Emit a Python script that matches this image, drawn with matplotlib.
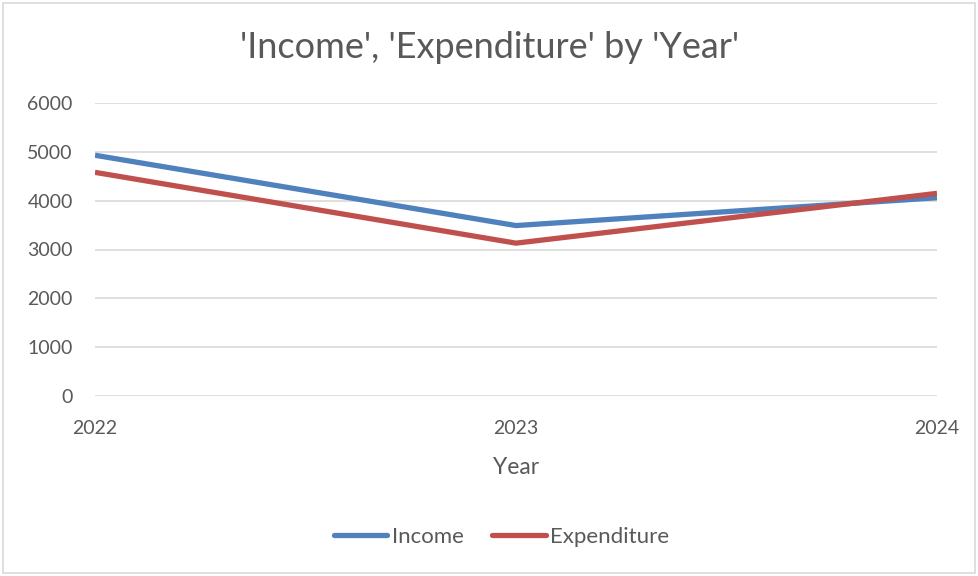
import matplotlib
matplotlib.use("Agg")
import matplotlib.pyplot as plt
from matplotlib.patches import Rectangle

years = [2022, 2023, 2024]
income = [4930, 3490, 4060]
expenditure = [4580, 3130, 4150]
yticks = [0, 1000, 2000, 3000, 4000, 5000, 6000]

plt.rcParams['font.family'] = ['Lato', 'DejaVu Sans']
fig = plt.figure(figsize=(9.79, 5.76), dpi=100)
ax = fig.add_axes([95/979, 1-396/576, (937-95)/979, (396-103)/576])

ax.plot(years, income, color='#4F81BD', lw=3.8, solid_capstyle='butt', label='Income')
ax.plot(years, expenditure, color='#C0504D', lw=3.8, solid_capstyle='butt', label='Expenditure')

ax.set_xlim(2022, 2024)
ax.set_ylim(0, 6000)
ax.set_yticks(yticks)
ax.set_xticks(years)
ax.set_xticklabels([str(y) for y in years])
ax.grid(axis='y', color='#D9D9D9', lw=1.2)
ax.set_axisbelow(True)
for s in ax.spines.values():
    s.set_visible(False)
ax.tick_params(axis='both', length=0, labelsize=14, labelcolor='#595959')
ax.tick_params(axis='x', pad=17)
ax.tick_params(axis='y', pad=16)
ax.set_xlabel('Year', fontsize=16.5, color='#595959', labelpad=15)

fig.text(0.5, 1-47/576, "'Income', 'Expenditure' by 'Year'", ha='center', va='center',
         fontsize=26, color='#595959')

leg = fig.legend(loc='center', bbox_to_anchor=(501.5/979, 1-537/576), ncol=2, frameon=False,
                 fontsize=16, handlelength=2.4, handletextpad=0.2, columnspacing=1.3,
                 labelcolor='#595959')
for line in leg.get_lines():
    line.set_solid_capstyle('round')

fig.patches.append(Rectangle((3/979, 3/576), 972/979, 570/576, transform=fig.transFigure,
                             fill=False, edgecolor='#D9D9D9', lw=1.2))

fig.savefig('out.png', dpi=100)
